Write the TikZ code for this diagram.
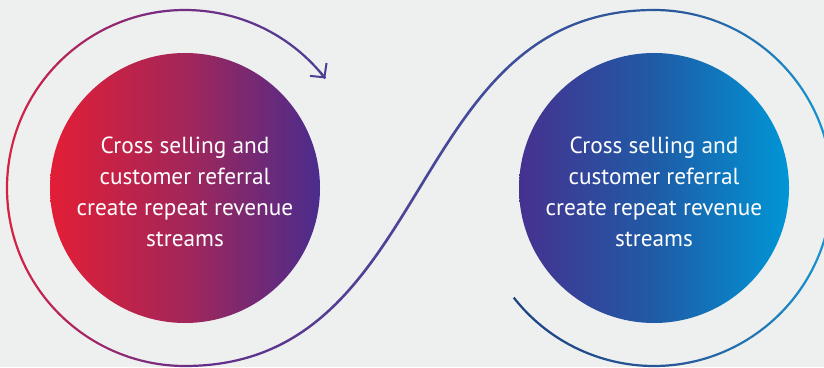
\documentclass[tikz,border=0pt]{standalone}
\usepackage{fontspec}
\setmainfont{PT Sans}
\usepackage{xcolor}
\usepackage{tikz}
\usetikzlibrary{calc, arrows.meta, positioning}
\definecolor{bgGrey}{HTML}{EEF0F0}
\definecolor{redEdge}{HTML}{E31E36}
\definecolor{redMid}{HTML}{A32659}
\definecolor{violetEdge}{HTML}{4A2C8D}
\definecolor{violetLeft}{HTML}{46318F}
\definecolor{blueMid}{HTML}{1F5BA6}
\definecolor{blueEdge}{HTML}{0096D6}
\definecolor{loopRed}{HTML}{E6203A}
\definecolor{loopPlum}{HTML}{7A2A80}
\definecolor{loopIndigo}{HTML}{4B3E94}
\definecolor{loopViolet}{HTML}{672C88}
\definecolor{loopDusk}{HTML}{4A4799}
\definecolor{loopNavy}{HTML}{1C4282}
\definecolor{loopSteel}{HTML}{2A5A9C}
\definecolor{loopSky}{HTML}{14A0DA}
\newcommand{\topstrut}{\rule{0pt}{25pt}}
\tikzset{
    bubblenode/.style = {circle, minimum size=270pt, inner sep=0pt, node distance=0pt,
      text=white, font=\fontsize{23.3}{31}\selectfont, align=center},
    every text node part/.style={align=center}
}

\begin{document}
\begin{tikzpicture}[x=1pt, y=1pt]
    \fill[bgGrey] (0,0) rectangle (824,367);
    \clip (0,0) rectangle (824,367);

    \node [bubblenode, name=crossL, left color=redEdge, right color=violetEdge, middle color=redMid]
      at (185,179) {\topstrut Cross selling and\\customer referral\\create repeat revenue\\streams};
    \node [bubblenode, name=crossR, right of=crossL, xshift=469pt,
      left color=violetLeft, right color=blueEdge, middle color=blueMid]
      {\topstrut Cross selling and\\customer referral\\create repeat revenue\\streams};

    % the loop, as thin shaded bands
    \coordinate (sStart) at ($(crossL.center)+(0,-178)$);
    \coordinate (sEnd) at ($(crossR.center)+(0,178)$);
    \coordinate (sCtlA) at ($(sStart)+(252,0)$);
    \coordinate (sCtlB) at ($(sEnd)+(-252,0)$);

    \shade[left color=loopRed, right color=loopIndigo, middle color=loopPlum]
      ($(crossL.center)+(38:179.1)$) arc[start angle=38, end angle=270, radius=179.1]
      -- ($(crossL.center)+(270:176.9)$) arc[start angle=270, end angle=38, radius=176.9] -- cycle;
    \shade[left color=loopViolet, right color=loopSteel, middle color=loopDusk]
      ($(sStart)+(0,-1.1)$) .. controls ($(sCtlA)+(1.2,-1.1)$) and ($(sCtlB)+(1.2,-1.1)$) .. ($(sEnd)+(0,-1.1)$)
      -- ($(sEnd)+(0,1.1)$) .. controls ($(sCtlB)+(-1.2,1.1)$) and ($(sCtlA)+(-1.2,1.1)$) .. ($(sStart)+(0,1.1)$)
      -- cycle;
    \shade[left color=loopNavy, right color=loopSky, middle color=loopSteel]
      ($(crossR.center)+(-142:179.1)$) arc[start angle=-142, end angle=90, radius=179.1]
      -- ($(crossR.center)+(90:176.9)$) arc[start angle=90, end angle=-142, radius=176.9] -- cycle;
    \draw[loopIndigo, line width=2pt, -{Straight Barb[length=10pt, width=21pt]}]
      ($(crossL.center)+(41:178)$) arc[start angle=41, end angle=38, radius=178];
\end{tikzpicture}
\end{document}
